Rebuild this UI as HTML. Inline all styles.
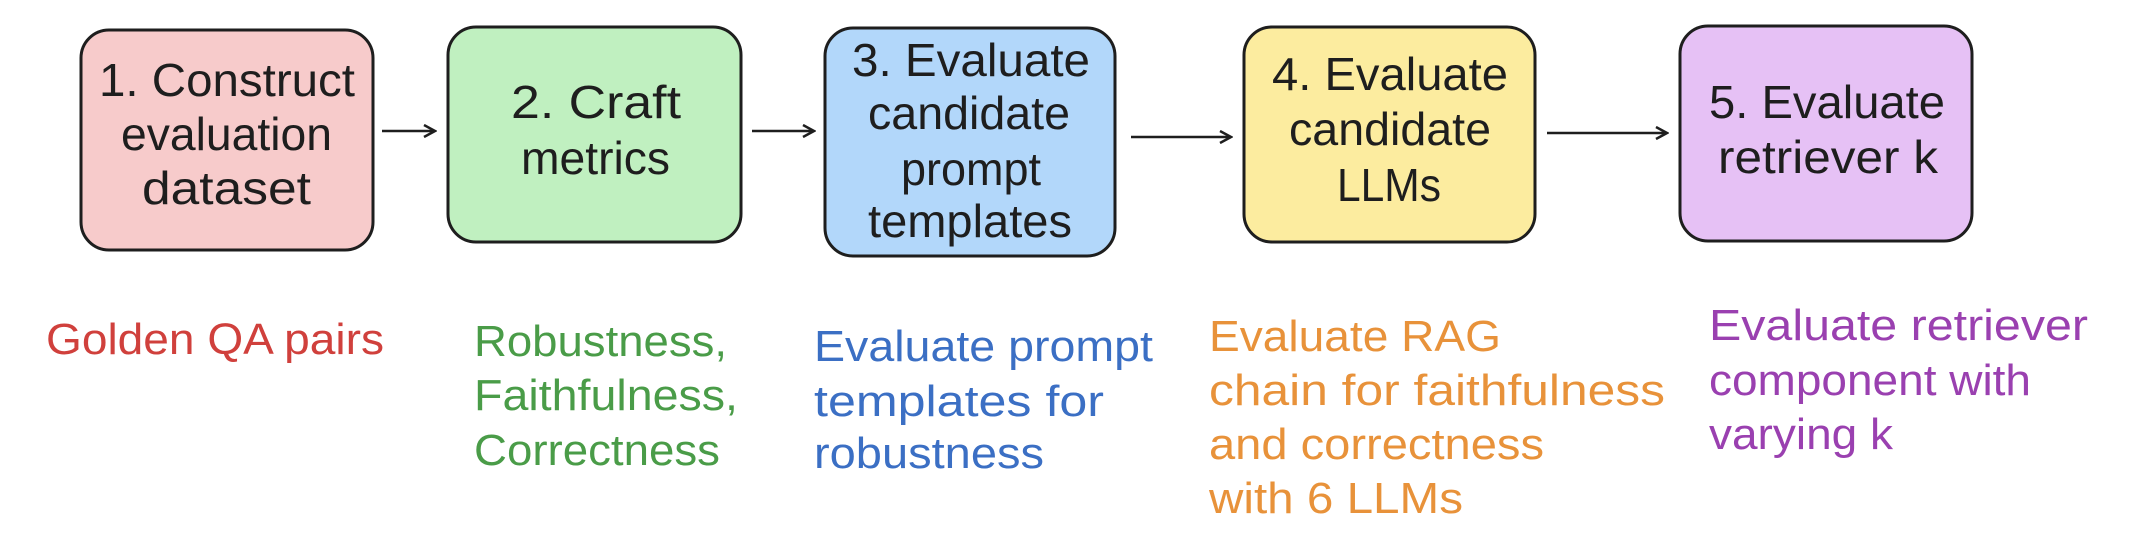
<!DOCTYPE html>
<html><head><meta charset="utf-8"><style>html,body{margin:0;padding:0;background:#fff}svg{display:block}</style></head>
<body>
<svg width="2134" height="548" viewBox="0 0 2134 548" xmlns="http://www.w3.org/2000/svg" font-family="Liberation Sans, sans-serif">
<defs><marker id="a" markerWidth="14" markerHeight="14" refX="12" refY="7" orient="auto" markerUnits="userSpaceOnUse"><path d="M1,1 L12,7 L1,13" fill="none" stroke="#1e1e1e" stroke-width="2.5"/></marker></defs>
<g stroke="#1e1e1e" stroke-width="3">
<rect x="81" y="30" width="292" height="220" rx="28" fill="#f7cbcb"/>
<rect x="448" y="27" width="293" height="215" rx="28" fill="#c0f0c0"/>
<rect x="825" y="28" width="290" height="228" rx="28" fill="#b2d7fa"/>
<rect x="1244" y="27" width="291" height="215" rx="28" fill="#fcec9f"/>
<rect x="1680" y="26" width="292" height="215" rx="28" fill="#e6c1f5"/>
</g>
<g stroke="#1e1e1e" stroke-width="2.5" marker-end="url(#a)">
<line x1="382" y1="131" x2="435" y2="131"/>
<line x1="752" y1="131" x2="814" y2="131"/>
<line x1="1131" y1="137" x2="1231" y2="137"/>
<line x1="1547" y1="133" x2="1667" y2="133"/>
</g>
<g font-size="46" fill="#1e1e1e">
<text x="99" y="96" textLength="256" lengthAdjust="spacingAndGlyphs">1. Construct</text>
<text x="121" y="150" textLength="211" lengthAdjust="spacingAndGlyphs">evaluation</text>
<text x="142" y="204" textLength="169" lengthAdjust="spacingAndGlyphs">dataset</text>
<text x="511" y="118" textLength="170" lengthAdjust="spacingAndGlyphs">2. Craft</text>
<text x="521" y="174" textLength="149" lengthAdjust="spacingAndGlyphs">metrics</text>
<text x="852" y="76" textLength="238" lengthAdjust="spacingAndGlyphs">3. Evaluate</text>
<text x="868" y="129" textLength="202" lengthAdjust="spacingAndGlyphs">candidate</text>
<text x="901" y="185" textLength="140" lengthAdjust="spacingAndGlyphs">prompt</text>
<text x="868" y="237" textLength="204" lengthAdjust="spacingAndGlyphs">templates</text>
<text x="1272" y="90" textLength="236" lengthAdjust="spacingAndGlyphs">4. Evaluate</text>
<text x="1289" y="145" textLength="202" lengthAdjust="spacingAndGlyphs">candidate</text>
<text x="1337" y="201" textLength="104" lengthAdjust="spacingAndGlyphs">LLMs</text>
<text x="1709" y="118" textLength="236" lengthAdjust="spacingAndGlyphs">5. Evaluate</text>
<text x="1718" y="173" textLength="220" lengthAdjust="spacingAndGlyphs">retriever k</text>
</g>
<g font-size="44">
<text x="46" y="354" fill="#d0403c" textLength="338" lengthAdjust="spacingAndGlyphs">Golden QA pairs</text>
<g fill="#4a9c48">
<text x="474" y="356" textLength="253" lengthAdjust="spacingAndGlyphs">Robustness,</text>
<text x="474" y="410" textLength="264" lengthAdjust="spacingAndGlyphs">Faithfulness,</text>
<text x="474" y="465" textLength="246" lengthAdjust="spacingAndGlyphs">Correctness</text>
</g>
<g fill="#3b6fc4">
<text x="814" y="361" textLength="339" lengthAdjust="spacingAndGlyphs">Evaluate prompt</text>
<text x="814" y="416" textLength="290" lengthAdjust="spacingAndGlyphs">templates for</text>
<text x="814" y="468" textLength="230" lengthAdjust="spacingAndGlyphs">robustness</text>
</g>
<g fill="#e8923a">
<text x="1209" y="351" textLength="292" lengthAdjust="spacingAndGlyphs">Evaluate RAG</text>
<text x="1209" y="405" textLength="456" lengthAdjust="spacingAndGlyphs">chain for faithfulness</text>
<text x="1209" y="459" textLength="335" lengthAdjust="spacingAndGlyphs">and correctness</text>
<text x="1209" y="513" textLength="254" lengthAdjust="spacingAndGlyphs">with 6 LLMs</text>
</g>
<g fill="#9a40b0">
<text x="1709" y="340" textLength="379" lengthAdjust="spacingAndGlyphs">Evaluate retriever</text>
<text x="1709" y="395" textLength="322" lengthAdjust="spacingAndGlyphs">component with</text>
<text x="1709" y="449" textLength="184" lengthAdjust="spacingAndGlyphs">varying k</text>
</g>
</g>
</svg>
</body></html>
